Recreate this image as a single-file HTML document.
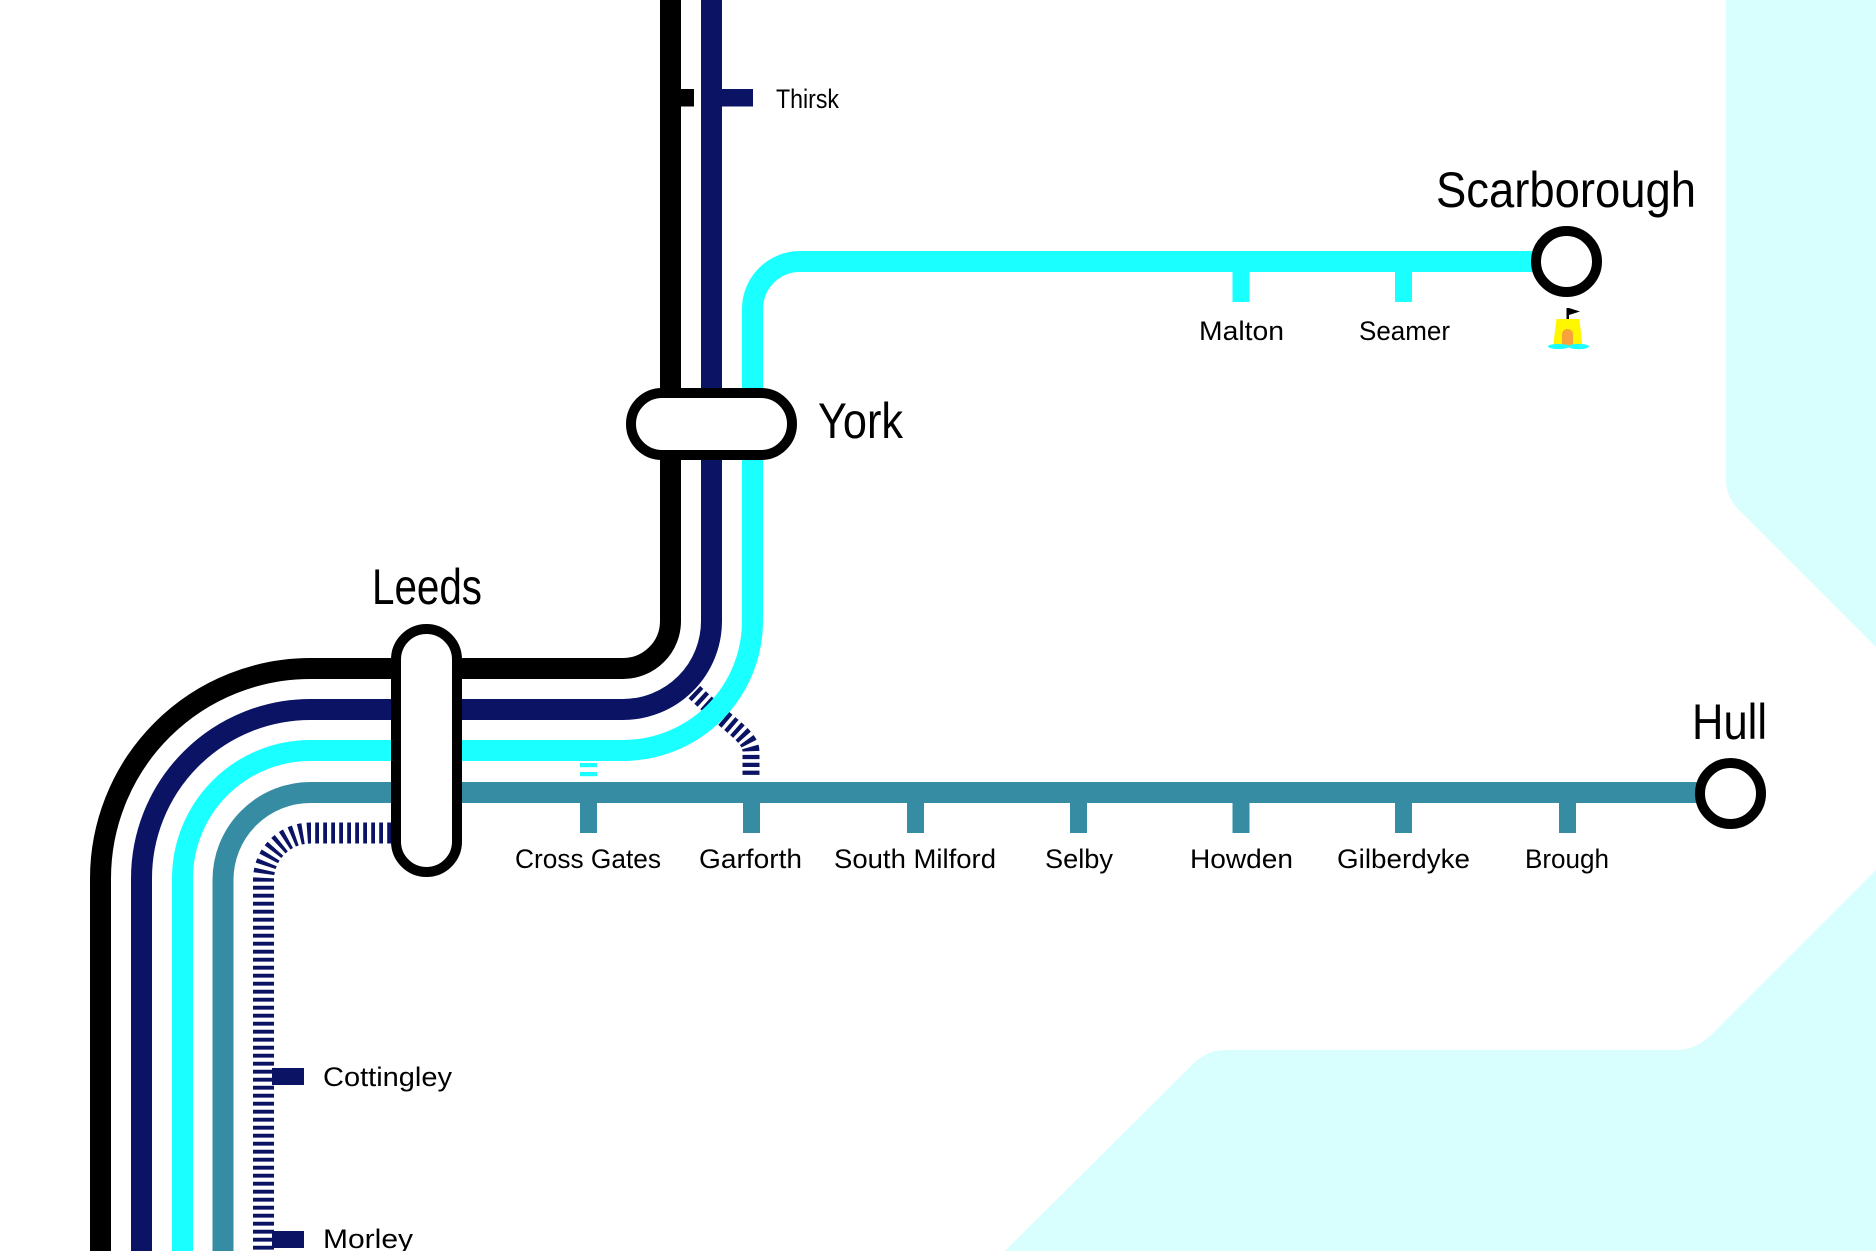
<!DOCTYPE html>
<html>
<head>
<meta charset="utf-8">
<style>
  html, body { margin:0; padding:0; background:#ffffff; }
  body { width:1876px; height:1251px; overflow:hidden; }
  svg { display:block; }
  text { font-family: "Liberation Sans", "DejaVu Sans", sans-serif; fill:#000; }
</style>
</head>
<body>
<svg width="1876" height="1251" viewBox="0 0 1876 1251" xmlns="http://www.w3.org/2000/svg">
  <!-- background water shapes -->
  <path d="M1726 0 H1876 V647 L1738.7 509.7 Q1726 497 1726 479 Z" fill="#d8fefe"/>
  <path d="M1005 1251 L1193.6 1063.4 Q1207 1050 1226 1050 H1675 Q1696 1050 1710.8 1035.2 L1876 870 V1251 Z" fill="#d8fefe"/>

  <!-- dashed navy branch to Garforth (under solid lines) -->
  <path d="M683 681 C730 728 751 735 751 752 V776" fill="none" stroke="#0b1464" stroke-width="17" stroke-dasharray="4.3 3.6"/>

  <!-- dashed cyan connector to Cross Gates -->
  <rect x="580" y="763" width="17" height="4.2" fill="#1affff"/>
  <rect x="580" y="772" width="17" height="4.2" fill="#1affff"/>

  <!-- dashed navy Leeds branch -->
  <path d="M391 833 H310.5 A47 47 0 0 0 263.5 880 V1251" fill="none" stroke="#0b1464" stroke-width="21" stroke-dasharray="3.8 4.2"/>

  <!-- teal line -->
  <path d="M1730 792.5 H310.5 A87.5 87.5 0 0 0 223 880 V1251" fill="none" stroke="#368da3" stroke-width="21"/>
  <!-- teal ticks -->
  <g fill="#368da3">
    <rect x="580" y="795" width="17" height="38"/>
    <rect x="743" y="795" width="17" height="38"/>
    <rect x="907" y="795" width="17" height="38"/>
    <rect x="1070" y="795" width="17" height="38"/>
    <rect x="1232.5" y="795" width="17" height="38"/>
    <rect x="1395" y="795" width="17" height="38"/>
    <rect x="1559" y="795" width="17" height="38"/>
  </g>

  <!-- cyan line -->
  <path d="M1566 261.5 H800 A47.5 47.5 0 0 0 752.5 309 V621 A129.5 129.5 0 0 1 623 750.5 H310.5 A128 128 0 0 0 182.5 878.5 V1251" fill="none" stroke="#1affff" stroke-width="21"/>
  <rect x="1232.5" y="265" width="17" height="37" fill="#1affff"/>
  <rect x="1395" y="265" width="17" height="37" fill="#1affff"/>

  <!-- navy line -->
  <path d="M711.5 0 V621 A88.5 88.5 0 0 1 623 709.5 H310.5 A169 169 0 0 0 141.5 878.5 V1251" fill="none" stroke="#0b1464" stroke-width="21"/>
  <rect x="720" y="89" width="33" height="17.5" fill="#0b1464"/>
  <rect x="272" y="1068" width="32" height="17" fill="#0b1464"/>
  <rect x="272" y="1231" width="32" height="17" fill="#0b1464"/>

  <!-- black line -->
  <path d="M670.5 0 V621 A47.5 47.5 0 0 1 623 668.5 H310.5 A210 210 0 0 0 100.5 878.5 V1251" fill="none" stroke="#000" stroke-width="21"/>
  <rect x="679" y="89" width="15" height="17.5" fill="#000"/>

  <!-- stations -->
  <rect x="631" y="393" width="161" height="62" rx="31" ry="31" fill="#fff" stroke="#000" stroke-width="10"/>
  <rect x="396" y="629" width="61" height="243" rx="30.5" ry="30.5" fill="#fff" stroke="#000" stroke-width="10"/>
  <circle cx="1566.5" cy="261.5" r="30.5" fill="#fff" stroke="#000" stroke-width="10"/>
  <circle cx="1730.5" cy="793.5" r="30.5" fill="#fff" stroke="#000" stroke-width="10"/>

  <!-- sandcastle -->
  <rect x="1566.5" y="308" width="2.5" height="12" fill="#000"/>
  <polygon points="1569,308 1580,311.5 1569,315" fill="#000"/>
  <polygon points="1556.5,319 1579.5,319 1582.5,347 1553,347" fill="#fff700"/>
  <path d="M1562 346 V334.5 A5.5 5.5 0 0 1 1573 334.5 V346 Z" fill="#f7a23a"/>
  <ellipse cx="1558.5" cy="346.5" rx="10.5" ry="2.6" fill="#1affff"/>
  <ellipse cx="1578.5" cy="346.5" rx="10.5" ry="2.6" fill="#1affff"/>

  <!-- large labels -->
  <text x="1436" y="207" font-size="50" textLength="260" lengthAdjust="spacingAndGlyphs">Scarborough</text>
  <text x="1692" y="739" font-size="50" textLength="75" lengthAdjust="spacingAndGlyphs">Hull</text>
  <text x="372" y="604" font-size="50" textLength="110" lengthAdjust="spacingAndGlyphs">Leeds</text>
  <text x="818" y="438" font-size="50" textLength="85" lengthAdjust="spacingAndGlyphs">York</text>

  <!-- small labels -->
  <g font-size="27">
    <text x="776" y="108" textLength="63" lengthAdjust="spacingAndGlyphs">Thirsk</text>
    <text x="1199" y="340" textLength="85" lengthAdjust="spacingAndGlyphs">Malton</text>
    <text x="1359" y="340" textLength="91" lengthAdjust="spacingAndGlyphs">Seamer</text>
    <text x="515" y="868" textLength="146" lengthAdjust="spacingAndGlyphs">Cross Gates</text>
    <text x="699" y="868" textLength="103" lengthAdjust="spacingAndGlyphs">Garforth</text>
    <text x="834" y="868" textLength="162" lengthAdjust="spacingAndGlyphs">South Milford</text>
    <text x="1045" y="868" textLength="68" lengthAdjust="spacingAndGlyphs">Selby</text>
    <text x="1190" y="868" textLength="103" lengthAdjust="spacingAndGlyphs">Howden</text>
    <text x="1337" y="868" textLength="133" lengthAdjust="spacingAndGlyphs">Gilberdyke</text>
    <text x="1525" y="868" textLength="84" lengthAdjust="spacingAndGlyphs">Brough</text>
    <text x="323" y="1086" textLength="129" lengthAdjust="spacingAndGlyphs">Cottingley</text>
    <text x="323" y="1248" textLength="90" lengthAdjust="spacingAndGlyphs">Morley</text>
  </g>
</svg>
</body>
</html>
